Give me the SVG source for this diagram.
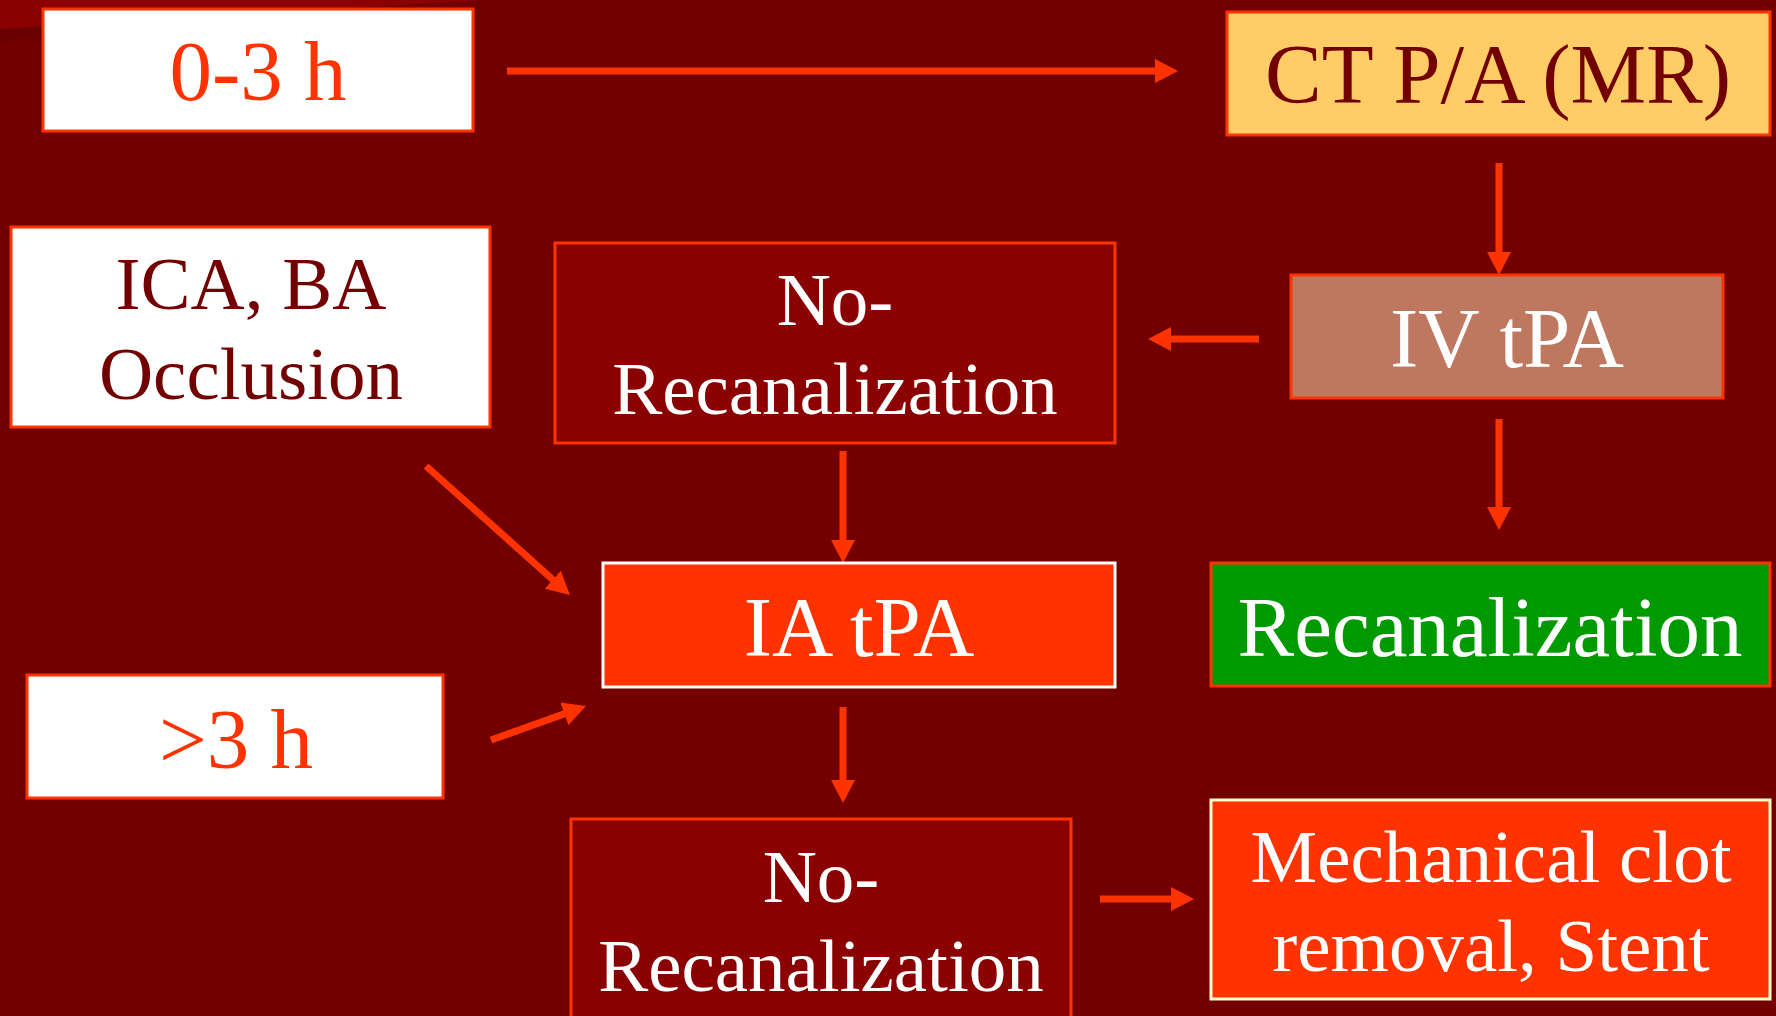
<svg xmlns="http://www.w3.org/2000/svg" width="1776" height="1016" viewBox="0 0 1776 1016">
  <style>
    .box { stroke-width: 3; }
    .t { font-family: "Liberation Serif", "Times New Roman", serif; text-anchor: middle; }
    .big { font-size: 85px; }
    .mid { font-size: 75px; }
    .conn line { stroke: #FF3300; stroke-width: 7; marker-end: url(#ah); }
  </style>
  <defs>
    <marker id="ah" markerUnits="userSpaceOnUse" markerWidth="23" markerHeight="24" refX="8" refY="12" orient="auto">
      <path d="M0,0 L23,12 L0,24 z" fill="#FF3300"/>
    </marker>
  </defs>

  <rect x="0" y="0" width="1776" height="1016" fill="#720000"/>
  <polygon points="0,0 480,0 0,29" fill="#8B0000"/>
  <polygon points="0,29 300,11 0,43" fill="#6A0000"/>

  <g class="conn" id="connectors">
    <line x1="507" y1="71" x2="1163" y2="71"/>
    <line x1="1499" y1="163" x2="1499" y2="260"/>
    <line x1="1259" y1="339" x2="1163" y2="339"/>
    <line x1="1499" y1="419" x2="1499" y2="515"/>
    <line x1="843" y1="451" x2="843" y2="548"/>
    <line x1="426" y1="466" x2="558.8" y2="585"/>
    <line x1="491" y1="740" x2="571.9" y2="711.1"/>
    <line x1="843" y1="707" x2="843" y2="788"/>
    <line x1="1100" y1="899" x2="1179" y2="899"/>
  </g>

  <g id="n-0-3h">
    <rect class="box" x="43" y="9" width="430" height="122" fill="#FFFFFF" stroke="#FF3300"/>
    <text class="t big" x="258" y="100" fill="#FF3300">0-3 h</text>
  </g>

  <g id="n-ct">
    <rect class="box" x="1227" y="12" width="543" height="123" fill="#FFCC66" stroke="#FF3300"/>
    <text class="t big" x="1498" y="103" fill="#730000">CT P/A (MR)</text>
  </g>

  <g id="n-ica">
    <rect class="box" x="11" y="227" width="479" height="200" fill="#FFFFFF" stroke="#FF3300"/>
    <text class="t mid" x="251" y="309" fill="#730000">ICA, BA</text>
    <text class="t mid" x="251" y="399" fill="#730000">Occlusion</text>
  </g>

  <g id="n-ivtpa">
    <rect class="box" x="1291" y="275" width="432" height="123" fill="#BF7860" stroke="#FF3300"/>
    <text class="t big" x="1507" y="367" fill="#FFFFFF">IV tPA</text>
  </g>

  <g id="n-norecan1">
    <rect class="box" x="555" y="243" width="560" height="200" fill="#8B0000" stroke="#FF3300"/>
    <text class="t mid" x="835" y="325" fill="#FFFFFF">No-</text>
    <text class="t mid" x="835" y="414" fill="#FFFFFF">Recanalization</text>
  </g>

  <g id="n-iatpa">
    <rect class="box" x="603" y="563" width="512" height="124" fill="#FF3300" stroke="#FFFFFF"/>
    <text class="t big" x="859" y="656" fill="#FFFFFF">IA tPA</text>
  </g>

  <g id="n-recan">
    <rect class="box" x="1211" y="563" width="559" height="123" fill="#009900" stroke="#FF3300"/>
    <text class="t big" x="1490" y="656" fill="#FFFFFF">Recanalization</text>
  </g>

  <g id="n-3h">
    <rect class="box" x="27" y="675" width="416" height="123" fill="#FFFFFF" stroke="#FF3300"/>
    <text class="t big" x="236" y="768" fill="#FF3300">&gt;3 h</text>
  </g>

  <g id="n-norecan2">
    <rect class="box" x="571" y="819" width="500" height="220" fill="#8B0000" stroke="#FF3300"/>
    <text class="t mid" x="821" y="902" fill="#FFFFFF">No-</text>
    <text class="t mid" x="821" y="991" fill="#FFFFFF">Recanalization</text>
  </g>

  <g id="n-mech">
    <rect class="box" x="1211" y="800" width="559" height="199" fill="#FF3300" stroke="#FFFFCC"/>
    <text class="t mid" x="1491" y="882" fill="#FFFFFF">Mechanical clot</text>
    <text class="t mid" x="1491" y="971" fill="#FFFFFF">removal, Stent</text>
  </g>
</svg>
